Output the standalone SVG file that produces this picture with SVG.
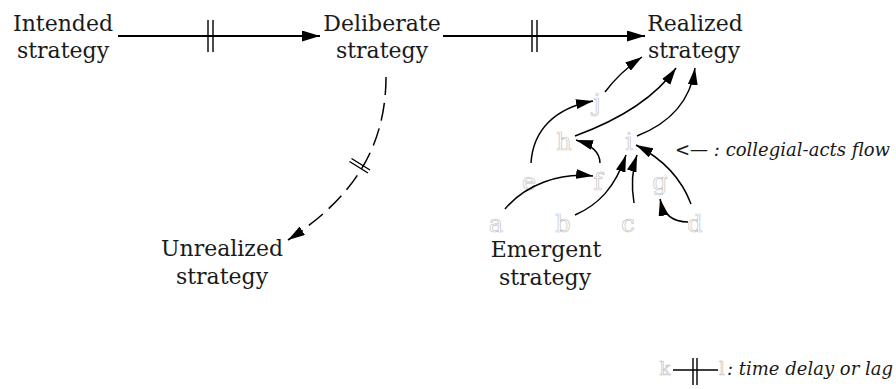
<svg xmlns="http://www.w3.org/2000/svg" width="896" height="389" viewBox="0 0 896 389">
<style>
.t{font-family:"DejaVu Serif","Liberation Serif",serif;font-size:22px;fill:#1a1a1a;text-anchor:middle}
.ol{font-family:"DejaVu Serif","Liberation Serif",serif;font-size:24px;fill:none;stroke:#c4c4c4;stroke-width:0.7;text-anchor:middle}
.ols{font-size:18px}
.it{font-family:"DejaVu Serif","Liberation Serif",serif;font-size:18px;font-style:italic;fill:#1a1a1a}
.main{fill:none;stroke:#000;stroke-width:2;marker-end:url(#ah)}
.cur{fill:none;stroke:#000;stroke-width:1.5;marker-end:url(#ah2)}
.dash{fill:none;stroke:#000;stroke-width:1.5;stroke-dasharray:18 8;marker-end:url(#ah2)}
.bar{stroke:#000;stroke-width:1.4;fill:none}
</style>
<defs>
<marker id="ah" markerUnits="userSpaceOnUse" markerWidth="18" markerHeight="11" refX="18" refY="5.5" orient="auto">
<path d="M0,0 L18,5.5 L0,11 z" fill="#000"/>
</marker>
<marker id="ah2" markerUnits="userSpaceOnUse" markerWidth="17" markerHeight="10" refX="17" refY="5" orient="auto">
<path d="M0,0 L17,5 L0,10 z" fill="#000"/>
</marker>
</defs>
<rect width="896" height="389" fill="#fff"/>

<g id="intended"><text class="t" x="63" y="31">Intended</text><text class="t" x="63" y="58">strategy</text></g>
<g id="deliberate"><text class="t" x="382" y="31">Deliberate</text><text class="t" x="382" y="58">strategy</text></g>
<g id="realized"><text class="t" x="695" y="31">Realized</text><text class="t" x="694" y="58">strategy</text></g>
<g id="unrealized"><text class="t" x="222" y="256">Unrealized</text><text class="t" x="222" y="284">strategy</text></g>
<g id="emergent"><text class="t" x="546" y="257">Emergent</text><text class="t" x="545" y="285">strategy</text></g>

<g id="acts" opacity="0.99">
<text class="ol" x="597" y="111">j</text>
<text class="ol" x="564" y="150">h</text>
<text class="ol" x="629" y="150">i</text>
<text class="ol" x="529" y="190">e</text>
<text class="ol" x="598" y="190">f</text>
<text class="ol" x="660" y="190">g</text>
<text class="ol" x="496" y="232">a</text>
<text class="ol" x="563" y="232">b</text>
<text class="ol" x="628" y="232">c</text>
<text class="ol" x="695" y="232">d</text>
</g>

<g id="connectors">
<path class="main" d="M118,36 L320,36"/>
<path class="bar" d="M208,20 V52 M213,20 V52"/>
<path class="main" d="M443,36 L645,36"/>
<path class="bar" d="M532,20 V52 M537,20 V52"/>
<path class="dash" d="M386,77 C386,150 350,200 288,240"/>
<path class="bar" d="M349.5,161.5 L368,173 M351.5,158.5 L370,170"/>

<path class="cur" d="M531,163 C533,130 555,108 593,101"/>
<path class="cur" d="M605,92 Q620,72 642,57"/>
<path class="cur" d="M575,136 C605,125 650,105 676,68"/>
<path class="cur" d="M637,136 C665,125 690,105 695,68"/>
<path class="cur" d="M600,163 C600,152 592,145 576,140"/>
<path class="cur" d="M505,209 C525,185 560,172 593,176"/>
<path class="cur" d="M575,215 C598,205 615,188 626,155"/>
<path class="cur" d="M634,203 C631,185 632,170 637,155"/>
<path class="cur" d="M691,204 C682,180 665,160 636,145"/>
<path class="cur" d="M688,222 C672,222 663,213 660,199"/>
</g>

<g id="legend-acts">
<text class="it" x="675" y="156" textLength="215" lengthAdjust="spacingAndGlyphs">&lt;— : collegial-acts flow</text>
</g>
<g id="legend-delay">
<g opacity="0.99"><text class="ol ols" x="665" y="375">k</text>
<text class="ol ols" x="722" y="375">l</text></g>
<path class="bar" d="M673,370 H718 M693,358 V385 M697,358 V385"/>
<text class="it" x="727" y="375" textLength="166" lengthAdjust="spacingAndGlyphs">: time delay or lag</text>
</g>
</svg>
